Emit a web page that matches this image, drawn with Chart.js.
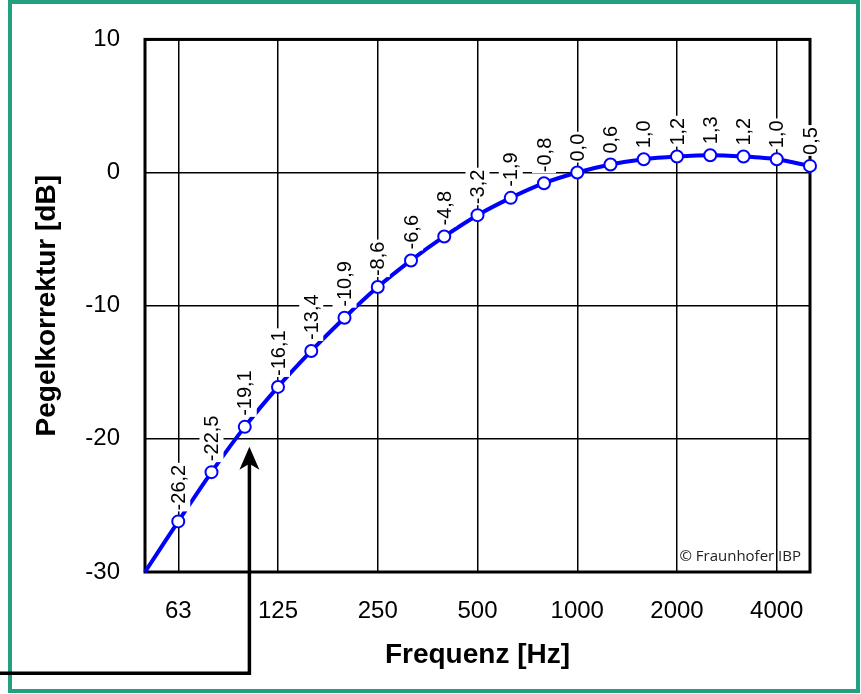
<!DOCTYPE html>
<html>
<head>
<meta charset="utf-8">
<script src="https://cdn.jsdelivr.net/npm/chart.js@4"></script>
<style>
  html, body { margin: 0; padding: 0; background: #fff; }
  canvas { display: block; }
</style>
</head>
<body>
<canvas id="chart" width="861" height="694"></canvas>
<script>
// third-octave bands, 50 Hz .. 5000 Hz
const FREQS = ['50','63','80','100','125','160','200','250','315','400','500','630','800','1000','1250','1600','2000','2500','3150','4000','5000'];
// A-weighting correction per band [dB]
const CORRECTION = [-30.0,-26.2,-22.5,-19.1,-16.1,-13.4,-10.9,-8.6,-6.6,-4.8,-3.2,-1.9,-0.8,0.0,0.6,1.0,1.2,1.3,1.2,1.0,0.5];
// bands that get a label + grid line on the x axis
const TICK_FREQS = ['63','125','250','500','1000','2000','4000'];
const Y_MIN = -30, Y_MAX = 10, Y_STEP = 10;
// arrow annotation (band index, dB)
const ARROW = { index: 3.14, tipDb: -20.6, baseDb: -37.6 };

const FONT = 'Arial, "Liberation Sans", sans-serif';
const BLUE = '#0000ff';

// ── Plugins ───────────────────────────────────────────────────────────────────
const page = {
  id: 'page',
  beforeDraw(chart) {
    const ctx = chart.ctx;
    ctx.save();
    ctx.fillStyle = '#fff';
    ctx.fillRect(0, 0, chart.width, chart.height);
    ctx.strokeStyle = '#22a07f';
    ctx.lineWidth = 4;
    ctx.strokeRect(10, 2, chart.width - 13, chart.height - 5);
    ctx.restore();
  },
  beforeDatasetsDraw(chart) {
    const {ctx, chartArea: a} = chart;
    ctx.save();
    ctx.strokeStyle = '#000';
    ctx.lineWidth = 3;
    ctx.strokeRect(a.left, a.top, a.right - a.left, a.bottom - a.top);
    ctx.font = '15px "Open Sans", sans-serif';
    ctx.fillStyle = '#222';
    ctx.textAlign = 'right';
    ctx.textBaseline = 'alphabetic';
    ctx.fillText('© Fraunhofer IBP', a.right - 9, a.bottom - 11);
    ctx.restore();
  }
};

const valueLabels = {
  id: 'valueLabels',
  afterDatasetsDraw(chart) {
    const ctx = chart.ctx;
    const meta = chart.getDatasetMeta(0);
    ctx.save();
    ctx.font = '20px ' + FONT;
    meta.data.forEach((pt, i) => {
      if (i === 0) return;
      const txt = CORRECTION[i].toFixed(1).replace('.', ',');
      const w = ctx.measureText(txt).width;
      ctx.save();
      ctx.translate(pt.x, pt.y - 11);
      ctx.rotate(-Math.PI / 2);
      ctx.fillStyle = '#fff';
      ctx.fillRect(-1, -12, w + 3, 24);
      ctx.fillStyle = '#000';
      ctx.textAlign = 'left';
      ctx.textBaseline = 'middle';
      ctx.fillText(txt, 0, 1);
      ctx.restore();
    });
    ctx.restore();
  }
};

const arrow = {
  id: 'arrow',
  afterDraw(chart) {
    const {ctx, scales: {x, y}} = chart;
    const ax = x.getPixelForValue(ARROW.index);
    const tip = y.getPixelForValue(ARROW.tipDb);
    const base = y.getPixelForValue(ARROW.baseDb);
    ctx.save();
    ctx.strokeStyle = '#000';
    ctx.fillStyle = '#000';
    ctx.lineWidth = 3.5;
    ctx.beginPath();
    ctx.moveTo(0, base);
    ctx.lineTo(ax, base);
    ctx.lineTo(ax, tip + 16);
    ctx.stroke();
    ctx.beginPath();
    ctx.moveTo(ax, tip);
    ctx.lineTo(ax + 10, tip + 23);
    ctx.lineTo(ax, tip + 17);
    ctx.lineTo(ax - 10, tip + 23);
    ctx.closePath();
    ctx.fill();
    ctx.restore();
  }
};

// ── Chart ─────────────────────────────────────────────────────────────────────
new Chart(document.getElementById('chart'), {
  type: 'line',
  data: {
    labels: FREQS,
    datasets: [{
      data: CORRECTION,
      borderColor: BLUE,
      borderWidth: 4,
      tension: 0.2,
      clip: false,
      pointRadius: c => c.dataIndex === 0 ? 0 : 6,
      pointBackgroundColor: '#fff',
      pointBorderColor: BLUE,
      pointBorderWidth: 2
    }]
  },
  options: {
    responsive: false,
    animation: false,
    devicePixelRatio: 1,
    layout: { padding: { top: 38, right: 51, left: 0, bottom: 0 } },
    plugins: { legend: { display: false }, tooltip: { enabled: false } },
    scales: {
      x: {
        offset: false,
        border: { display: false },
        grid: {
          drawTicks: false,
          lineWidth: 1.5,
          color: c => TICK_FREQS.includes(FREQS[c.index]) && c.index > 0 ? '#000' : 'rgba(0,0,0,0)'
        },
        ticks: {
          autoSkip: false,
          maxRotation: 0,
          padding: 25,
          color: '#000',
          font: { family: FONT, size: 24 },
          callback: (v, i) => TICK_FREQS.includes(FREQS[i]) ? FREQS[i] : ''
        },
        title: {
          display: true,
          text: 'Frequenz [Hz]',
          color: '#000',
          font: { family: FONT, size: 28, weight: 'bold' },
          padding: { top: 0, bottom: 22 }
        },
        afterFit: s => { s.height = 122; }
      },
      y: {
        min: Y_MIN,
        max: Y_MAX,
        border: { display: false },
        grid: { drawTicks: false, lineWidth: 1.5, color: '#000' },
        ticks: {
          stepSize: Y_STEP,
          padding: 25,
          color: '#000',
          font: { family: FONT, size: 24 }
        },
        title: {
          display: true,
          text: 'Pegelkorrektur [dB]',
          color: '#000',
          font: { family: FONT, size: 28, weight: 'bold' },
          padding: { top: 30, bottom: 0 }
        },
        afterFit: s => { s.width = 145; }
      }
    }
  },
  plugins: [page, valueLabels, arrow]
});
</script>
</body>
</html>
